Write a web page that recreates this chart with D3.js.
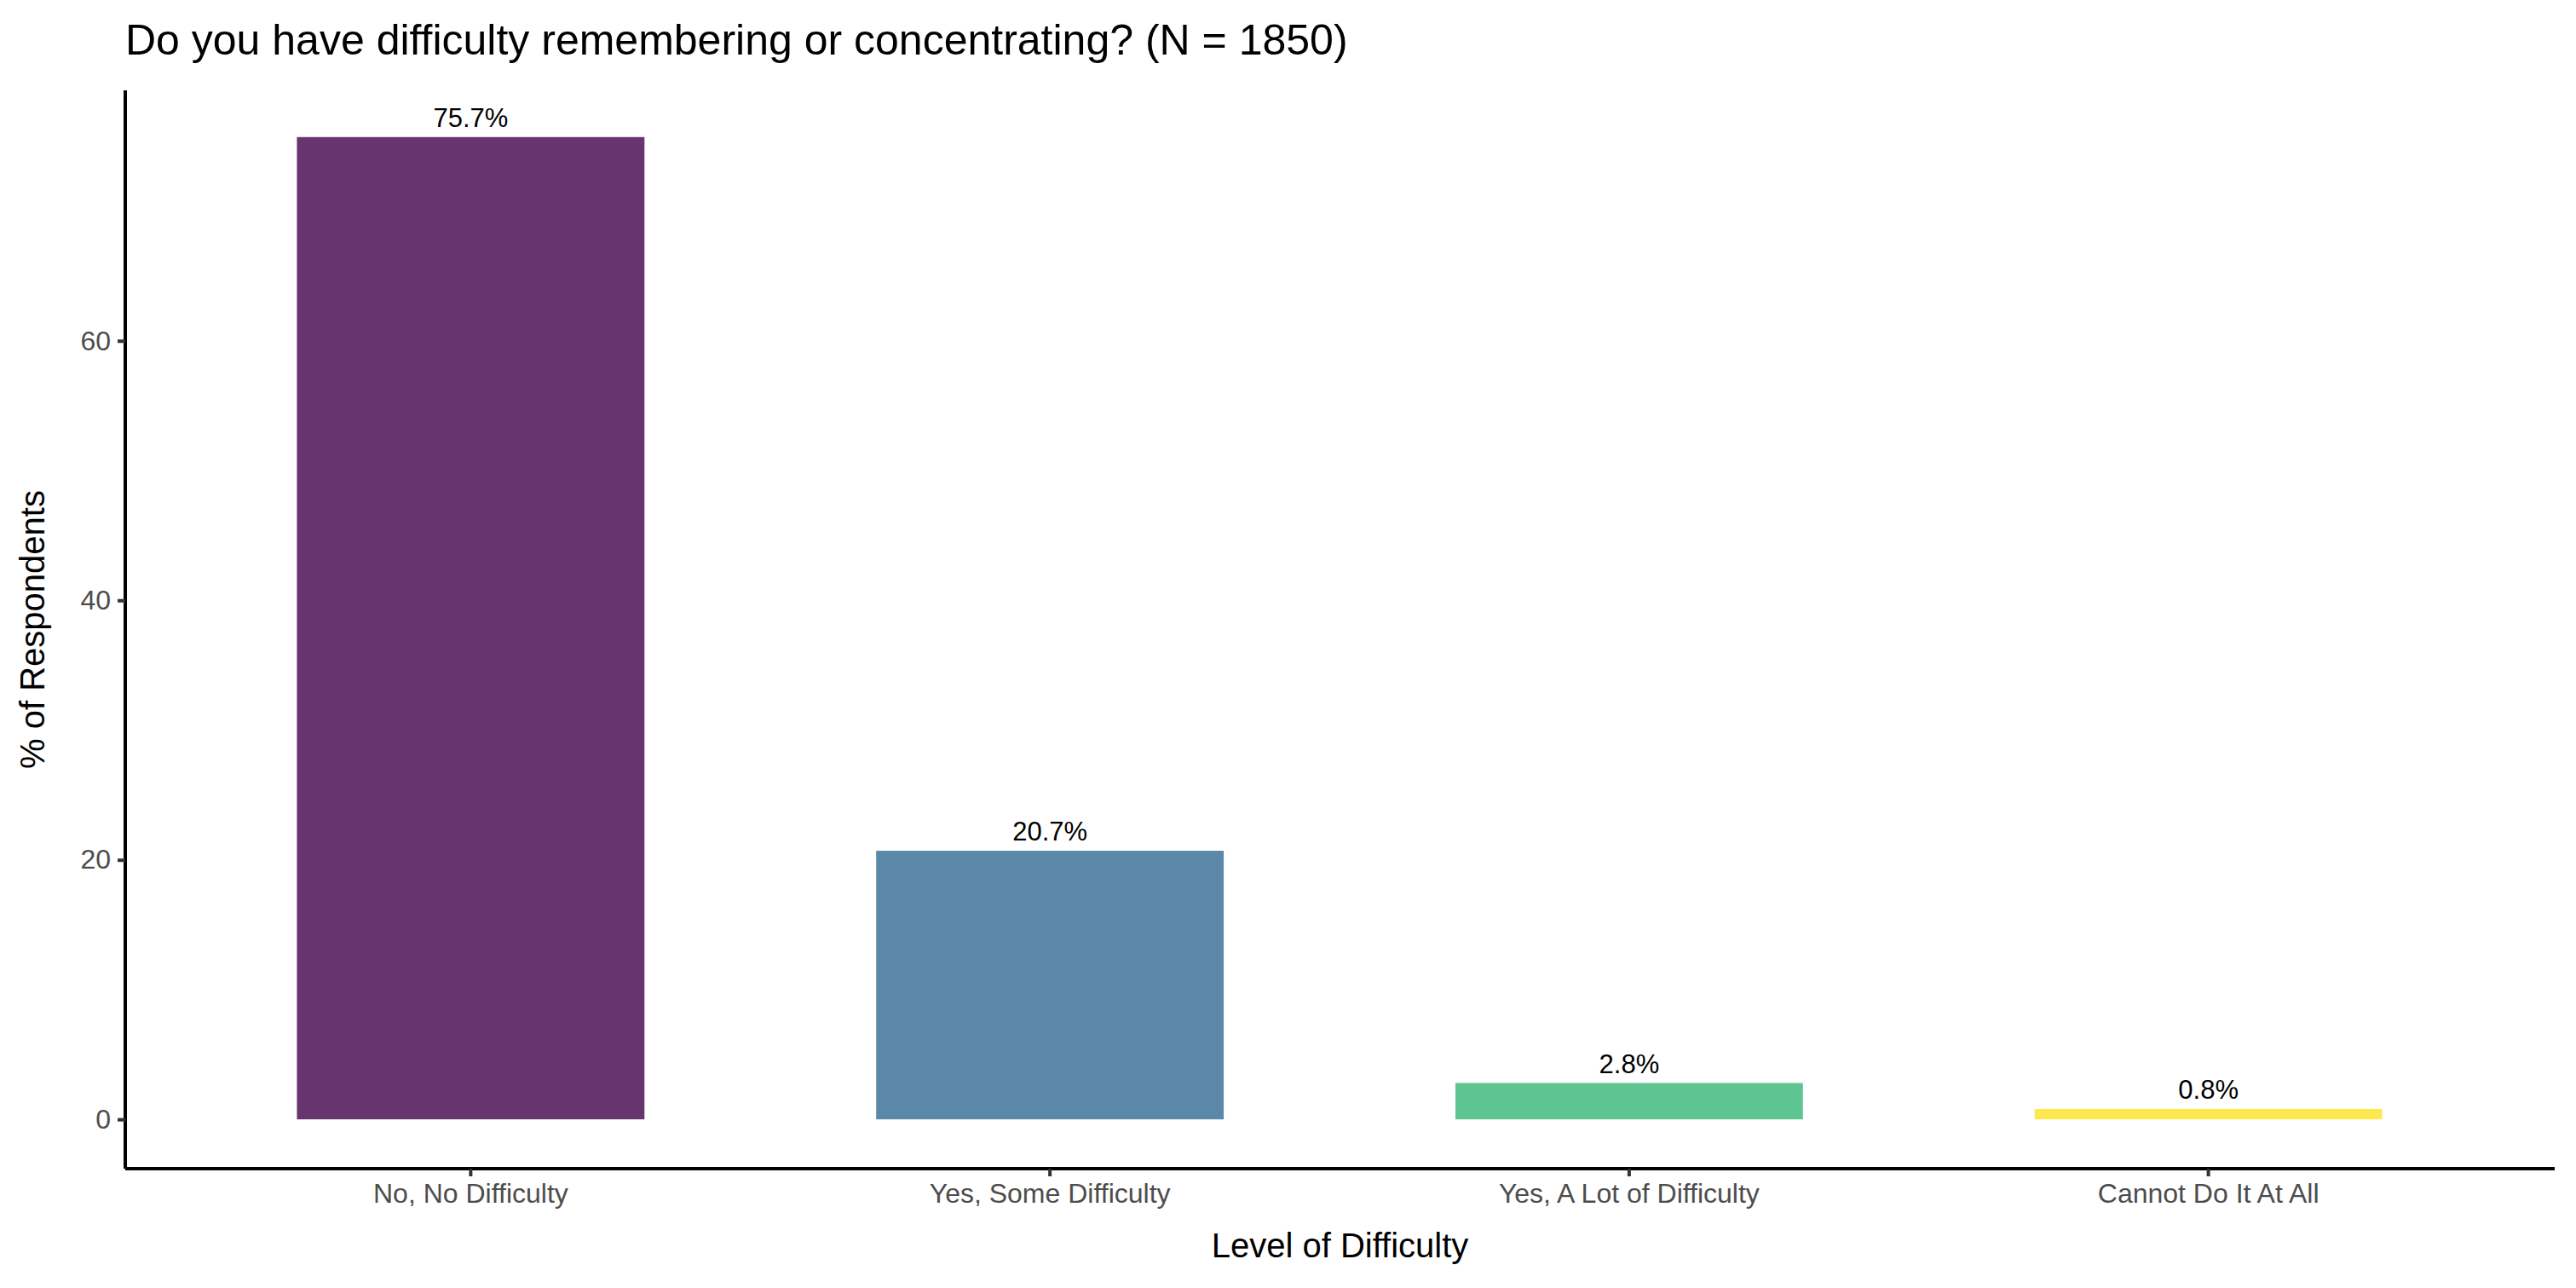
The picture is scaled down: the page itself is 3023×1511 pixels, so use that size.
<!DOCTYPE html>
<html lang="en">
<head>
<meta charset="UTF-8">
<title>Difficulty remembering</title>
<script src="https://d3js.org/d3.v7.min.js"></script>
<style>
  body { margin: 0; background: #fff; }
  text { font-family: "Liberation Sans", Arial, sans-serif; }
</style>
</head>
<body>
<svg id="chart" width="3023" height="1511"></svg>
<script>
const categories = ["No, No Difficulty", "Yes, Some Difficulty", "Yes, A Lot of Difficulty", "Cannot Do It At All"];
const values = [75.7, 20.7, 2.8, 0.8];
const colors = ["#68346f", "#5b88a8", "#5ec592", "#fde84f"];
const yTicks = [0, 20, 40, 60];

const svg = d3.select("#chart");
const mLeft = 147, mRight = 2998, mTop = 106, mBottom = 1371;

const x = d3.scaleBand().domain(categories).range([212.5, 2931.5])
  .paddingInner(0.4).paddingOuter(0.2);
const y = d3.scaleLinear().domain([-3.8, 79.3]).range([mBottom, mTop]);

// bars
svg.selectAll("rect.bar").data(values).enter().append("rect")
  .attr("x", (d, i) => x(categories[i]))
  .attr("width", x.bandwidth())
  .attr("y", d => y(d))
  .attr("height", d => y(0) - y(d))
  .attr("fill", (d, i) => colors[i]);

// value labels
svg.selectAll("text.val").data(values).enter().append("text")
  .attr("x", (d, i) => x(categories[i]) + x.bandwidth() / 2)
  .attr("y", d => y(d) - 12)
  .attr("text-anchor", "middle")
  .attr("font-size", 31)
  .attr("fill", "#000")
  .text(d => d.toFixed(1) + "%");

// axes
const yAxis = svg.append("g").attr("transform", `translate(${mLeft},0)`)
  .call(d3.axisLeft(y).tickValues(yTicks).tickSize(9).tickPadding(8));
const xAxis = svg.append("g").attr("transform", `translate(0,${mBottom})`)
  .call(d3.axisBottom(x).tickSize(9).tickPadding(8));
[yAxis, xAxis].forEach(g => {
  g.select(".domain").attr("stroke", "#000").attr("stroke-width", 4);
  g.selectAll(".tick line").attr("stroke", "#333").attr("stroke-width", 4);
  g.selectAll(".tick text").attr("font-size", 32).attr("fill", "#4d4d4d")
    .style("font-family", "'Liberation Sans', Arial, sans-serif");
});
yAxis.select(".domain").attr("d", `M0,${mTop}V${mBottom}`);
xAxis.select(".domain").attr("d", `M${mLeft},0H${mRight}`);

// titles
svg.append("text").attr("x", 147).attr("y", 64)
  .attr("font-size", 50).attr("fill", "#000")
  .text("Do you have difficulty remembering or concentrating? (N = 1850)");
svg.append("text").attr("x", (mLeft + mRight) / 2).attr("y", 1475)
  .attr("text-anchor", "middle").attr("font-size", 40).attr("fill", "#000")
  .text("Level of Difficulty");
svg.append("text")
  .attr("transform", `translate(52,${(mTop + mBottom) / 2}) rotate(-90)`)
  .attr("text-anchor", "middle").attr("font-size", 40).attr("fill", "#000")
  .text("% of Respondents");
</script>
</body>
</html>
